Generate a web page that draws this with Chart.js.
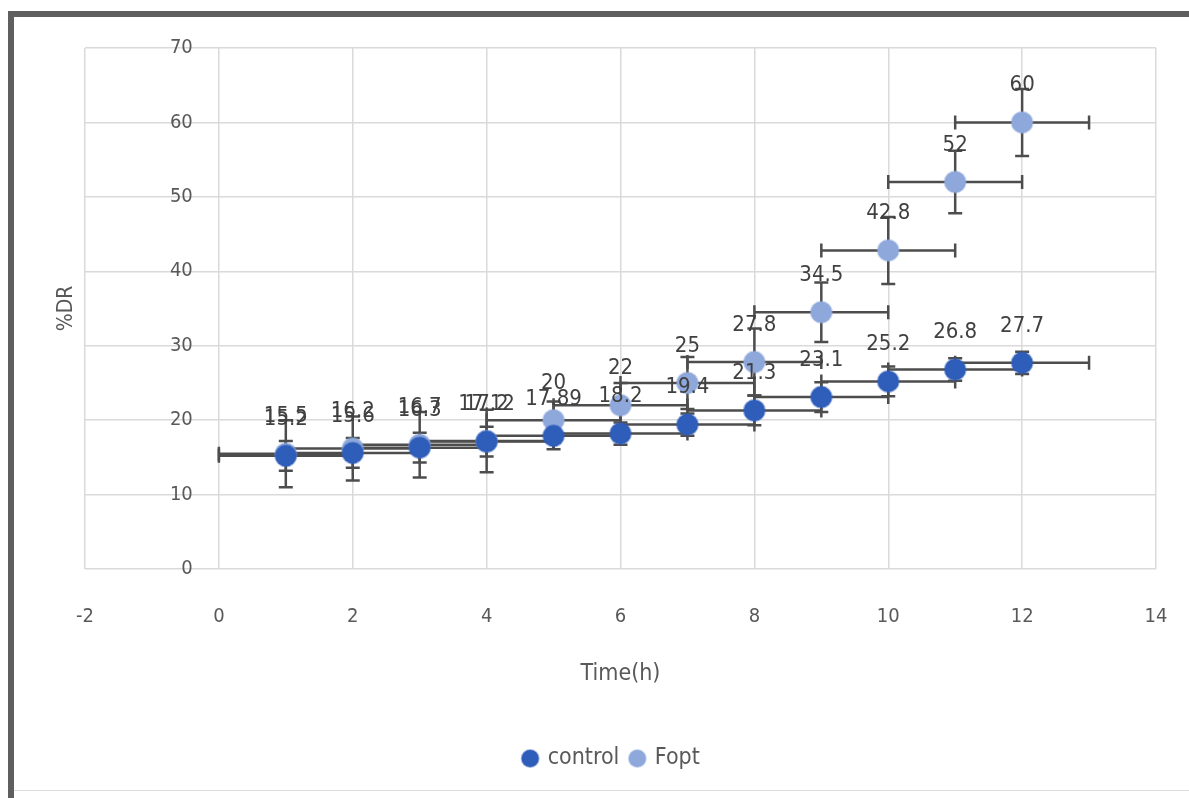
<!DOCTYPE html>
<html>
<head>
<meta charset="utf-8">
<script src="https://cdn.jsdelivr.net/npm/chart.js@4.4.0/dist/chart.umd.min.js"></script>
<style>
  html, body { margin: 0; padding: 0; background: #fff; }
  #wrap { position: relative; width: 1189px; height: 798px; overflow: hidden; }
  #frameTop { position: absolute; left: 8px; top: 11px; width: 1181px; height: 6px; background: #5f5f5f; }
  #frameLeft { position: absolute; left: 8px; top: 11px; width: 6px; height: 787px; background: #5f5f5f; }
  #frameBottom { position: absolute; left: 14px; top: 790px; width: 1175px; height: 1px; background: #dcdcdc; }
  canvas { position: absolute; left: 0; top: 0; }
</style>
</head>
<body>
<div id="wrap">
  <canvas id="chart" width="1189" height="798"></canvas>
  <div id="frameTop"></div>
  <div id="frameLeft"></div>
  <div id="frameBottom"></div>
</div>
<script>
"use strict";

// data
var hours = [1, 2, 3, 4, 5, 6, 7, 8, 9, 10, 11, 12];
var control = [15.2, 15.6, 16.3, 17.12, 17.89, 18.2, 19.4, 21.3, 23.1, 25.2, 26.8, 27.7];
var fopt = [15.5, 16.2, 16.7, 17.2, 20, 22, 25, 27.8, 34.5, 42.8, 52, 60];
var controlXErr = [1, 1, 1, 1, 1, 1, 1, 1, 1, 1, 1, 1];
var controlYErr = [2, 2, 2, 2, 1.8, 1.5, 1.5, 2, 2, 2, 1.5, 1.5];
var foptXErr = [1, 1, 1, 1, 1, 1, 1, 1, 1, 1, 1, 1];
var foptYErr = [4.5, 4.3, 4.4, 4.2, 2.5, 3, 3.5, 4.5, 4, 4.5, 4.2, 4.5];

var FONT = "'Liberation Sans Narrow', 'DejaVu Sans Condensed', 'Liberation Sans', sans-serif";
var TEXT = '#595959';

function points(xs, ys) {
	return xs.map(function (x, i) { return { x: x, y: ys[i] }; });
}

var errors = [
	{ xErr: controlXErr, yErr: controlYErr },
	{ xErr: foptXErr, yErr: foptYErr }
];

// error bars behind the markers
var errorBars = {
	id: 'errorBars',
	beforeDatasetsDraw: function (chart) {
		var ctx = chart.ctx;
		var xs = chart.scales.x, ys = chart.scales.y;
		var cap = 7;
		ctx.save();
		ctx.strokeStyle = '#4d4d4d';
		ctx.lineWidth = 2.5;
		chart.data.datasets.forEach(function (ds, d) {
			var err = errors[d];
			ds.data.forEach(function (p, i) {
				var px = xs.getPixelForValue(p.x), py = ys.getPixelForValue(p.y);
				var xl = xs.getPixelForValue(p.x - err.xErr[i]);
				var xr = xs.getPixelForValue(p.x + err.xErr[i]);
				var yt = ys.getPixelForValue(p.y + err.yErr[i]);
				var yb = ys.getPixelForValue(p.y - err.yErr[i]);
				ctx.beginPath();
				ctx.moveTo(xl, py); ctx.lineTo(xr, py);
				ctx.moveTo(xl, py - cap); ctx.lineTo(xl, py + cap);
				ctx.moveTo(xr, py - cap); ctx.lineTo(xr, py + cap);
				ctx.moveTo(px, yt); ctx.lineTo(px, yb);
				ctx.moveTo(px - cap, yt); ctx.lineTo(px + cap, yt);
				ctx.moveTo(px - cap, yb); ctx.lineTo(px + cap, yb);
				ctx.stroke();
			});
		});
		ctx.restore();
	}
};

// value labels above the markers
var valueLabels = {
	id: 'valueLabels',
	afterDatasetsDraw: function (chart) {
		var ctx = chart.ctx;
		ctx.save();
		ctx.font = '22px ' + FONT;
		ctx.fillStyle = '#404040';
		ctx.textAlign = 'center';
		ctx.textBaseline = 'middle';
		chart.data.datasets.forEach(function (ds, d) {
			var meta = chart.getDatasetMeta(d);
			meta.data.forEach(function (el, i) {
				ctx.fillText(String(ds.data[i].y), el.x, el.y - 37);
			});
		});
		ctx.restore();
	}
};

var ctx = document.getElementById('chart');
var chart = new Chart(ctx, {
	type: 'scatter',
	data: {
		datasets: [
			{
				label: 'control',
				data: points(hours, control),
				backgroundColor: '#2f5dba',
				borderColor: 'rgba(47,93,186,0.45)',
				borderWidth: 2,
				pointRadius: 10.5,
				pointHoverRadius: 10.5
			},
			{
				label: 'Fopt',
				data: points(hours, fopt),
				backgroundColor: '#8ea8dc',
				borderColor: 'rgba(142,168,220,0.45)',
				borderWidth: 2,
				pointRadius: 10.5,
				pointHoverRadius: 10.5
			}
		]
	},
	options: {
		responsive: false,
		animation: false,
		layout: { padding: { left: 68, right: 33, top: 48, bottom: 18 } },
		plugins: {
			tooltip: { enabled: false },
			legend: {
				display: true,
				position: 'bottom',
				labels: {
					usePointStyle: true,
					pointStyle: 'circle',
					boxWidth: 12,
					boxHeight: 12,
					padding: 12,
					color: TEXT,
					font: { family: FONT, size: 23 }
				}
			}
		},
		scales: {
			x: {
				type: 'linear',
				min: -2,
				max: 14,
				ticks: { stepSize: 2, padding: 0, color: TEXT, font: { family: FONT, size: 20 } },
				grid: { color: '#dadada', lineWidth: 1.5, drawTicks: true, tickLength: 36, tickColor: 'transparent' },
				border: { display: false },
				title: { display: true, text: 'Time(h)', color: TEXT, font: { family: FONT, size: 23 }, padding: { top: 0, bottom: 47 } },
				afterFit: function (scale) { scale.height = 166; }
			},
			y: {
				min: 0,
				max: 70,
				// labels sit a little left of the x = 0 gridline, as in the original
				position: { x: -0.39 },
				ticks: { stepSize: 10, padding: 0, color: TEXT, font: { family: FONT, size: 20 } },
				grid: { color: '#dadada', lineWidth: 1.5, drawTicks: false },
				border: { display: false }
			},
			yTitle: {
				type: 'linear',
				axis: 'y',
				position: 'left',
				ticks: { display: false },
				grid: { display: false },
				border: { display: false },
				title: { display: true, text: '%DR', color: TEXT, font: { family: FONT, size: 21 }, padding: { top: -14, bottom: 0 } },
				afterFit: function (scale) { scale.width = 17; }
			}
		}
	},
	plugins: [errorBars, valueLabels]
});
</script>
</body>
</html>
